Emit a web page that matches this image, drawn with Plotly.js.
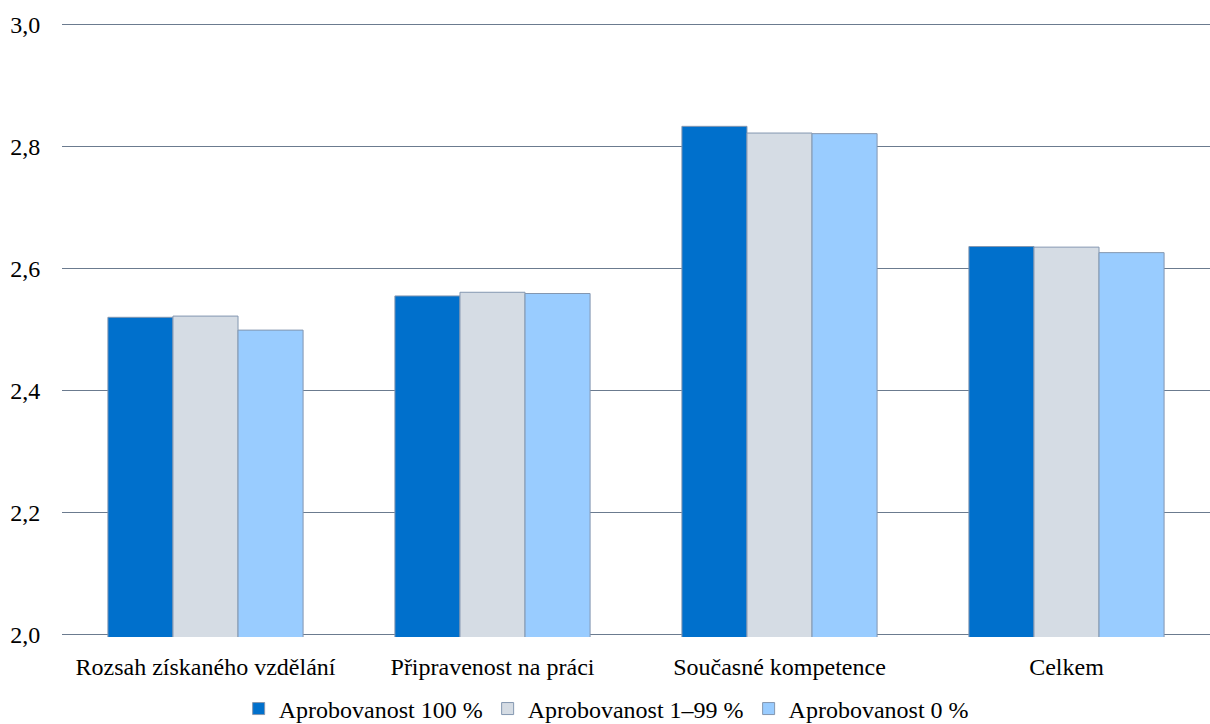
<!DOCTYPE html>
<html>
<head>
<meta charset="utf-8">
<script src="https://cdn.plot.ly/plotly-3.0.1.min.js"></script>
<style>html,body{margin:0;padding:0;background:#fff;}#chart{width:1210px;height:724px;}</style>
</head>
<body>
<div id="chart"></div>
<script>
const categories = ["Rozsah získaného vzdělání", "Připravenost na práci", "Současné kompetence", "Celkem"];
const seriesNames = ["Aprobovanost 100 %", "Aprobovanost 1–99 %", "Aprobovanost 0 %"];
const apro100 = [2.520, 2.555, 2.833, 2.636];
const apro1_99 = [2.522, 2.561, 2.822, 2.635];
const apro0 = [2.499, 2.559, 2.821, 2.626];
const colors = ["#0070CC", "#D5DCE4", "#99CCFF"];
const yTicks = [2.0, 2.2, 2.4, 2.6, 2.8, 3.0];

const values = [apro100, apro1_99, apro0];
const traces = values.map((v, i) => ({
  type: 'bar',
  x: categories,
  y: v,
  name: seriesNames[i],
  marker: {color: colors[i], line: {color: '#8497B0', width: 1}},
  hoverinfo: 'y'
}));

const FONT = 'Liberation Serif, Times New Roman, serif';
const layout = {
  width: 1210, height: 724,
  margin: {l: 62, r: 0, t: 22, b: 87, autoexpand: false},
  paper_bgcolor: '#fff', plot_bgcolor: '#fff',
  separators: ',.',
  font: {family: FONT, size: 24, color: '#000'},
  barmode: 'group',
  bargap: 0.32,
  bargroupgap: 0,
  showlegend: true,
  legend: {orientation: 'h', x: 0.474, xanchor: 'center',
           y: -0.117, yanchor: 'middle',
           font: {family: FONT, size: 24}, itemwidth: 30, tracegroupgap: 0, traceorder: 'normal'},
  xaxis: {type: 'category', showgrid: false, showline: false, zeroline: false, automargin: false,
          ticks: 'outside', ticklen: 8, tickcolor: 'rgba(0,0,0,0)', tickfont: {family: FONT, size: 24}},
  yaxis: {range: [1.996, 3.004], tickvals: yTicks, tickformat: '.1f', showgrid: true, automargin: false,
          gridcolor: '#6B7B8F', gridwidth: 1, zeroline: false, showline: false,
          ticks: 'outside', ticklen: 16, tickcolor: 'rgba(0,0,0,0)', tickfont: {family: FONT, size: 24}}
};

Plotly.newPlot('chart', traces, layout, {displayModeBar: false, staticPlot: true});
</script>
</body>
</html>
